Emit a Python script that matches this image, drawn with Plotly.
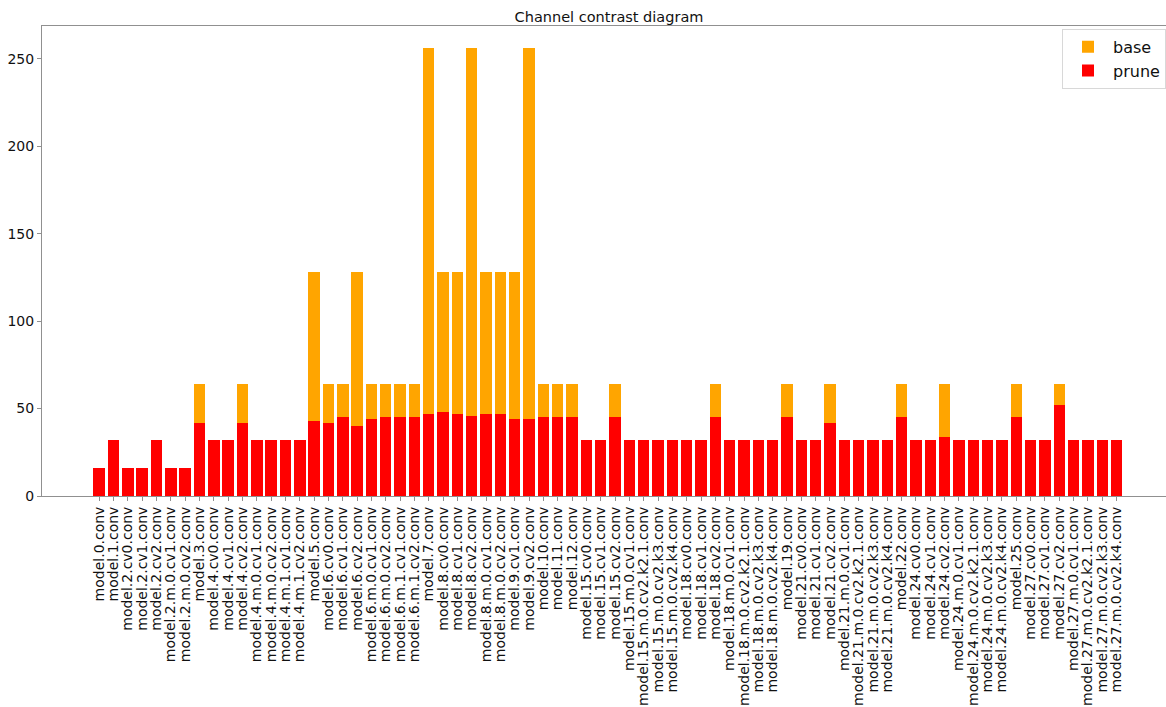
import plotly.graph_objects as go

layers = [
    "model.0.conv", "model.1.conv", "model.2.cv0.conv", "model.2.cv1.conv", "model.2.cv2.conv",
    "model.2.m.0.cv1.conv", "model.2.m.0.cv2.conv", "model.3.conv", "model.4.cv0.conv", "model.4.cv1.conv",
    "model.4.cv2.conv", "model.4.m.0.cv1.conv", "model.4.m.0.cv2.conv", "model.4.m.1.cv1.conv", "model.4.m.1.cv2.conv",
    "model.5.conv", "model.6.cv0.conv", "model.6.cv1.conv", "model.6.cv2.conv", "model.6.m.0.cv1.conv",
    "model.6.m.0.cv2.conv", "model.6.m.1.cv1.conv", "model.6.m.1.cv2.conv", "model.7.conv", "model.8.cv0.conv",
    "model.8.cv1.conv", "model.8.cv2.conv", "model.8.m.0.cv1.conv", "model.8.m.0.cv2.conv", "model.9.cv1.conv",
    "model.9.cv2.conv", "model.10.conv", "model.11.conv", "model.12.conv", "model.15.cv0.conv",
    "model.15.cv1.conv", "model.15.cv2.conv", "model.15.m.0.cv1.conv", "model.15.m.0.cv2.k2.1.conv", "model.15.m.0.cv2.k3.conv",
    "model.15.m.0.cv2.k4.conv", "model.18.cv0.conv", "model.18.cv1.conv", "model.18.cv2.conv", "model.18.m.0.cv1.conv",
    "model.18.m.0.cv2.k2.1.conv", "model.18.m.0.cv2.k3.conv", "model.18.m.0.cv2.k4.conv", "model.19.conv", "model.21.cv0.conv",
    "model.21.cv1.conv", "model.21.cv2.conv", "model.21.m.0.cv1.conv", "model.21.m.0.cv2.k2.1.conv", "model.21.m.0.cv2.k3.conv",
    "model.21.m.0.cv2.k4.conv", "model.22.conv", "model.24.cv0.conv", "model.24.cv1.conv", "model.24.cv2.conv",
    "model.24.m.0.cv1.conv", "model.24.m.0.cv2.k2.1.conv", "model.24.m.0.cv2.k3.conv", "model.24.m.0.cv2.k4.conv", "model.25.conv",
    "model.27.cv0.conv", "model.27.cv1.conv", "model.27.cv2.conv", "model.27.m.0.cv1.conv", "model.27.m.0.cv2.k2.1.conv",
    "model.27.m.0.cv2.k3.conv", "model.27.m.0.cv2.k4.conv",
]

base = [
    16, 32, 16, 16, 32, 16, 16, 64, 32, 32,
    64, 32, 32, 32, 32, 128, 64, 64, 128, 64,
    64, 64, 64, 256, 128, 128, 256, 128, 128, 128,
    256, 64, 64, 64, 32, 32, 64, 32, 32, 32,
    32, 32, 32, 64, 32, 32, 32, 32, 64, 32,
    32, 64, 32, 32, 32, 32, 64, 32, 32, 64,
    32, 32, 32, 32, 64, 32, 32, 64, 32, 32,
    32, 32,
]

prune = [
    16, 32, 16, 16, 32, 16, 16, 42, 32, 32,
    42, 32, 32, 32, 32, 43, 42, 45, 40, 44,
    45, 45, 45, 47, 48, 47, 46, 47, 47, 44,
    44, 45, 45, 45, 32, 32, 45, 32, 32, 32,
    32, 32, 32, 45, 32, 32, 32, 32, 45, 32,
    32, 42, 32, 32, 32, 32, 45, 32, 32, 34,
    32, 32, 32, 32, 45, 32, 32, 52, 32, 32,
    32, 32,
]

y_ticks = [0, 50, 100, 150, 200, 250]

FONT = "DejaVu Sans"

fig = go.Figure()
fig.add_trace(go.Bar(x=layers, y=base, name="base", marker_color="#FFA500",
                     marker_line_width=0, width=0.8))
fig.add_trace(go.Bar(x=layers, y=prune, name="prune", marker_color="#FF0000",
                     marker_line_width=0, width=0.8))

fig.update_layout(
    width=1166, height=707,
    margin=dict(l=42, r=0, t=26, b=211),
    barmode="overlay",
    plot_bgcolor="white", paper_bgcolor="white",
    font=dict(family=FONT, size=14, color="#111"),
    title=dict(text="Channel contrast diagram", x=(609 - 42) / 1124, xref="paper",
               xanchor="center", y=1 - 17 / 707, yref="container", yanchor="middle",
               font=dict(family=FONT, size=14.5, color="#111")),
    legend=dict(x=0.9075, y=0.994, xanchor="left", yanchor="top",
                bgcolor="white", bordercolor="#d8d8d8", borderwidth=1,
                font=dict(family=FONT, size=16, color="#111"),
                traceorder="normal", itemwidth=40),
    bargap=0,
)
fig.update_xaxes(
    type="category", range=[-3.99, 74.45], tickangle=-90,
    tickmode="array", tickvals=layers, ticktext=layers,
    showline=True, linecolor="#909090", linewidth=1, mirror=True,
    ticks="outside", ticklen=4, tickcolor="#909090",
    showgrid=False, zeroline=False,
    tickfont=dict(family=FONT, size=14, color="#111"),
)
fig.update_yaxes(
    range=[0, 268.8], tickvals=y_ticks,
    showline=True, linecolor="#909090", linewidth=1, mirror=False,
    ticks="outside", ticklen=4, tickcolor="#909090",
    showgrid=False, zeroline=False,
    tickfont=dict(family=FONT, size=14, color="#111"),
)

fig.write_html("out.html")
